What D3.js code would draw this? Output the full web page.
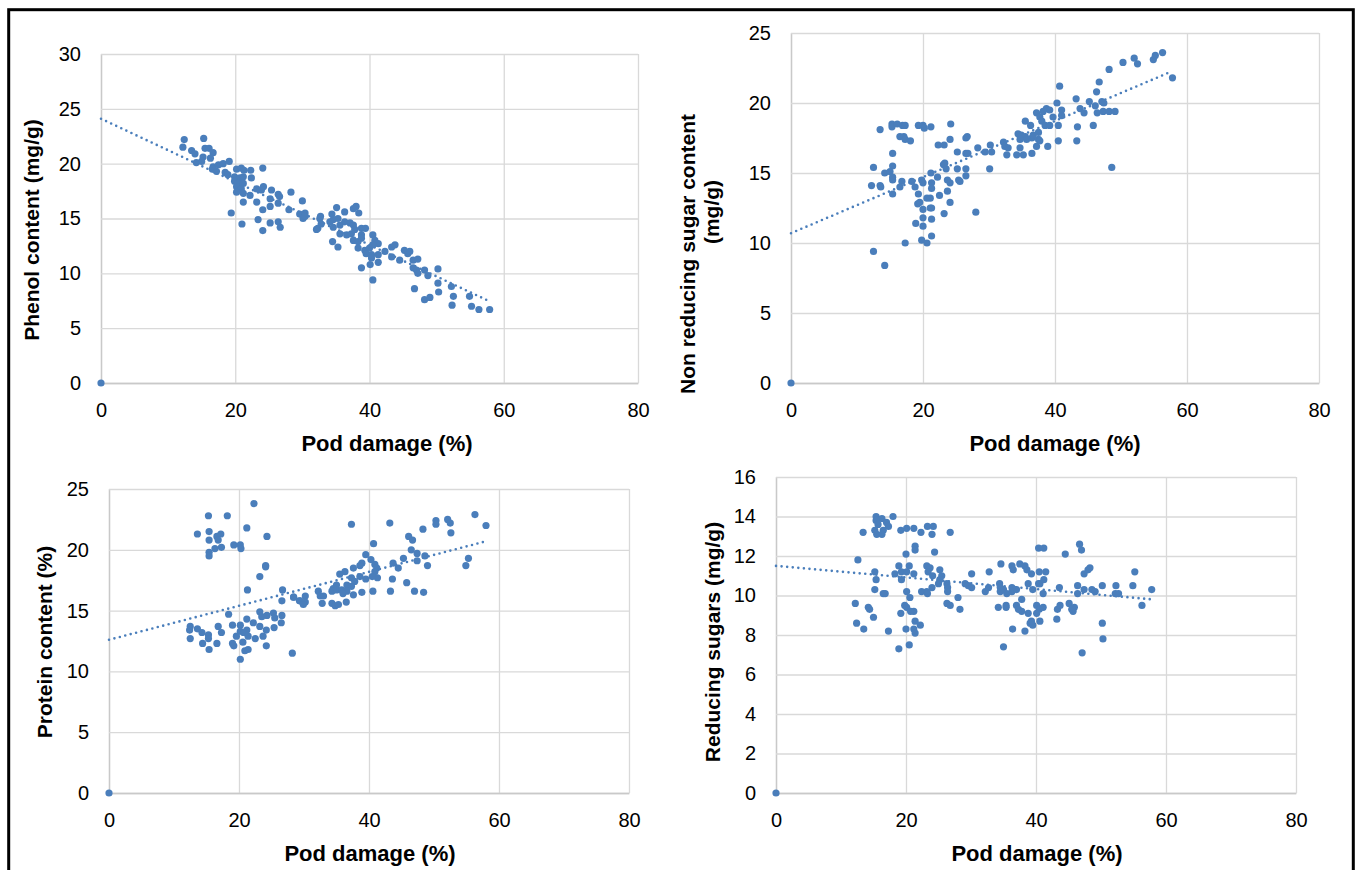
<!DOCTYPE html>
<meta charset="utf-8">
<style>
  body { margin: 0; background: #fff; }
  text { font-family: "Liberation Sans", Arial, sans-serif; }
</style>
<svg width="1356" height="870"></svg>
<script src="https://cdn.jsdelivr.net/npm/d3@7"></script>
<script>

// values: [pod damage %, value]
var phenol = [[0,0],
  [12.4,22.2],[15.3,22.3],[12.2,21.5],[13.5,21.2],[14,20.9],[15.5,21.4],[16.1,21.4],[16.7,21.0],[15.2,20.6],[16.3,20.5],[14.2,20.1],[15,20.2],[16.7,19.7],[17.5,19.9],[18.2,20.0],[19.1,20.2],[16.6,19.5],[17.2,19.3],[18.5,19.2],[18.9,19.0],[20.2,19.5],[20.9,19.6],[21.3,19.4],[22.3,19.4],[24.1,19.6],[19.9,18.8],[20.7,18.7],[21.2,18.8],[22.4,18.7],[19.9,18.4],[20.4,18.2],[21.2,18.2],[20.2,17.9],[20.9,17.7],[20.2,17.4],[21.2,17.3],[22.2,17.1],[23.2,17.7],[23.9,17.6],[24.2,17.9],[25.4,17.6],[26.4,17.2],[26.6,17.0],[28.3,17.4],[21.2,16.5],[23.2,16.5],[25.2,16.8],[26.4,16.4],[24.1,15.8],[25.2,16.1],[28.0,15.8],[30.0,16.6],[29.6,15.4],[30.4,15.5],[30.1,15.0],[19.4,15.5],[21.0,14.5],[23.4,14.9],[25.2,14.6],[26.4,14.7],[26.7,14.2],[24.1,13.9],[32.3,14.1],[32.6,15.0],
  [30.4,15.2],[32.7,15.2],[32.1,14.0],[32.8,14.5],[35.1,16.0],[36.3,15.6],[37.6,15.9],[38.0,16.1],[38.4,15.5],[34.4,15.4],[34.6,14.9],[35.3,15.0],[34.1,14.7],[34.6,14.2],[35.6,14.4],[36.3,14.7],[37.1,14.6],[37.6,14.4],[35.6,13.6],[36.6,13.5],[37.3,13.6],[37.8,14.0],[38.8,14.1],[39.4,14.1],[34.5,12.9],[35.3,12.4],[37.6,13.0],[38.3,12.9],[38.8,13.5],[38.8,13.2],[38.3,12.3],[39.3,12.1],[39.5,11.8],[40.0,12.3],[40.5,13.5],[40.8,13.0],[41.3,12.7],[40.5,12.6],[40.3,11.7],[41.3,11.7],[40.3,11.4],[41.3,11.0],[38.8,10.5],[40.1,10.8],[40.5,9.4],[42.3,12.0],[43.3,12.4],[43.8,12.6],[43.3,11.5],[44.5,11.2],[45.2,12.1],[45.7,11.8],[46.0,12.0],[46.5,11.2],[47.2,11.3],[46.5,10.5],[47.0,10.3],[47.2,10.0],[48.2,10.3],[48.7,9.8],[50.2,10.4],[50.2,9.1],[50.3,8.3],[46.7,8.6],[48.2,7.6],[49.0,7.8],[52.2,8.8],[52.5,7.9],[52.3,7.1],[54.9,7.9],[55.2,7.0],[56.3,6.7],[57.9,6.7]];

var nrSugar = [[0,0],
  [15.3,18.5],[15.3,18.3],[16.1,18.5],[16.9,18.4],[17.3,18.4],[13.5,18.1],[19.3,18.4],[20.0,18.4],[20.2,18.2],[21.2,18.3],[24.2,18.5],[16.5,17.6],[17.1,17.6],[17.3,17.4],[18.1,17.3],[22.3,17.0],[23.2,17.0],[24.1,17.4],[26.5,17.5],[26.7,17.6],[15.4,16.4],[25.2,16.5],[26.5,16.4],[26.8,16.4],[28.3,16.8],[29.4,16.5],[30.2,17.0],[30.4,16.5],[32.2,17.2],[32.4,16.9],[32.9,16.8],[32.7,16.3],[34.2,16.3],[35.2,16.3],[34.7,16.8],[12.5,15.4],[15.4,15.5],[14.2,15.0],[15.0,15.1],[15.4,14.7],[15.4,14.5],[12.2,14.1],[13.5,14.1],[13.6,14.0],[16.8,14.4],[16.5,14.0],[18.3,14.4],[18.8,14.0],[15.4,13.5],[19.8,14.5],[20.0,14.3],[21.2,15.0],[21.3,14.3],[21.3,13.9],[22.2,14.7],[19.3,13.5],[19.2,12.8],[19.5,12.9],[20.6,13.2],[21.1,13.2],[21.3,12.5],[21.1,12.5],[22.5,13.4],[23.7,13.7],[24.1,12.9],[23.1,15.6],[23.5,15.3],[23.3,15.7],[25.2,15.3],[26.5,15.3],[23.7,14.5],[24.1,14.3],[25.4,14.5],[25.6,14.4],[26.5,14.8],[30.1,15.3],[23.2,12.1],[28.0,12.2],[20.0,12.4],[20.0,11.8],[18.9,11.4],[20.0,11.2],[21.3,11.7],[17.3,10.0],[19.8,10.2],[20.6,10.0],[21.3,10.5],[12.5,9.4],[14.2,8.4],
  [36.5,16.4],[34.4,17.8],[34.9,17.7],[35.5,17.6],[34.7,17.4],[35.7,17.4],[36.5,17.5],[36.7,17.7],[37.5,17.9],[37.5,17.4],[37.2,16.9],[37.7,17.3],[35.5,18.7],[36.3,18.4],[37.2,19.3],[37.7,19.0],[38.2,19.4],[38.7,19.6],[39.2,19.5],[38.0,18.7],[38.5,18.4],[39.2,18.4],[38.9,16.9],[40.5,18.4],[40.5,17.3],[39.7,19.0],[40.3,20.0],[41.0,19.5],[41.0,19.1],[40.7,21.2],[43.2,20.3],[43.8,19.6],[44.4,19.3],[43.4,18.3],[43.3,17.3],[45.2,20.1],[46.1,19.8],[46.4,19.3],[45.8,18.4],[47.1,20.1],[47.4,20.0],[46.3,20.8],[46.7,21.5],[47.3,19.4],[48.2,19.4],[49.1,19.4],[48.2,22.4],[50.3,22.9],[52.0,23.2],[52.5,22.8],[54.9,23.1],[55.2,23.4],[56.3,23.6],[57.8,21.8],[48.6,15.4]];

var protein = [[0,0],
  [22.3,23.8],[15.3,22.8],[18.2,22.8],[21.2,21.8],[13.6,21.3],[15.4,21.5],[16.6,21.1],[17.2,21.3],[16.8,20.8],[15.4,20.8],[24.3,21.1],[17.3,20.2],[16.3,20.1],[15.4,19.8],[15.4,19.5],[19.2,20.4],[20.2,20.4],[20.3,20.1],[24.1,18.7],[24.1,18.6],[23.2,17.8],[21.3,16.7],[26.7,16.7],[28.4,16.1],[26.6,15.8],[29.3,15.8],[18.4,14.7],[23.2,14.9],[23.5,14.5],[24.3,14.6],[25.3,14.8],[25.5,14.4],[26.6,14.6],[26.5,14.0],[12.5,13.7],[12.4,13.4],[13.6,13.5],[14.3,13.2],[15.3,13.0],[15.3,12.7],[12.5,12.7],[16.8,13.7],[17.3,13.2],[19.0,13.8],[20.2,13.8],[21.2,14.3],[22.2,14.0],[20.2,13.3],[21.2,13.4],[19.6,12.9],[20.7,13.2],[23.2,13.7],[23.7,12.9],[24.2,13.4],[25.4,13.6],[22.5,12.7],[14.4,12.3],[16.6,12.3],[15.4,11.8],[19.0,12.3],[19.2,12.1],[20.6,12.4],[21.4,12.9],[24.2,12.1],[20.9,11.7],[21.4,11.8],[20.2,11.0],[28.2,11.5],
  [37.3,22.1],[43.2,22.2],[56.3,22.9],[58.0,22.0],[50.3,22.4],[50.3,22.1],[52.1,22.5],[52.5,22.2],[52.6,21.4],[48.3,21.7],[46.1,21.1],[46.7,20.8],[40.7,20.5],[46.5,20.0],[47.4,19.7],[48.6,19.5],[47.4,19.1],[49.0,18.7],[45.3,19.3],[43.7,18.9],[44.5,18.5],[55.3,19.3],[54.9,18.7],[39.5,19.6],[40.3,19.2],[38.9,18.9],[38.6,18.7],[37.6,18.5],[40.9,18.8],[41.2,18.5],[40.9,18.2],[41.3,17.7],[40.5,17.8],[39.5,17.6],[38.6,17.8],[36.3,18.2],[35.5,18.0],[37.3,17.7],[37.8,17.4],[36.6,17.1],[37.3,17.0],[35.0,17.1],[34.5,16.8],[34.3,16.6],[35.0,16.7],[35.8,16.7],[36.6,16.6],[37.6,16.3],[36.0,16.4],[38.9,16.5],[40.6,16.6],[43.6,17.6],[45.8,17.3],[43.3,16.6],[47.0,16.6],[48.4,16.5],[32.2,16.6],[32.5,16.2],[33.0,16.2],[30.2,16.2],[28.4,16.1],[29.4,15.8],[30.2,15.7],[29.9,15.5],[32.8,15.6],[34.3,15.6],[34.8,15.4],[35.3,15.5],[36.5,15.7]];

var redSugar = [[0,0],
  [15.4,14.0],[16.3,13.9],[18.0,14.0],[15.4,13.8],[15.7,13.6],[17.0,13.7],[17.3,13.5],[16.5,13.3],[15.5,13.1],[16.3,13.1],[15.2,13.3],[13.4,13.2],[19.2,13.3],[20.1,13.4],[21.2,13.4],[22.3,13.2],[23.3,13.5],[24.2,13.5],[24.0,13.1],[26.8,13.2],[21.4,12.5],[21.4,12.3],[20.0,12.1],[24.4,12.2],[12.6,11.8],[18.9,11.5],[20.5,11.5],[18.3,11.1],[19.3,11.2],[20.1,11.2],[21.2,11.1],[19.3,10.8],[15.2,11.2],[15.4,10.8],[15.2,10.3],[16.5,10.1],[16.8,10.1],[23.2,11.5],[23.7,11.4],[23.4,11.2],[24.1,11.0],[25.2,11.3],[25.5,11.0],[25.2,10.8],[25.0,10.6],[24.0,10.4],[22.4,10.2],[23.2,10.2],[23.3,10.1],[20.1,10.2],[20.6,9.9],[19.8,9.5],[20.1,9.4],[21.2,9.2],[26.3,10.6],[26.4,10.4],[26.4,10.2],[28.0,9.9],[28.3,9.3],[26.3,9.6],[26.8,9.5],[12.2,9.6],[14.2,9.4],[14.4,9.3],[15.0,8.9],[19.2,9.1],[20.7,9.2],[21.4,8.7],[22.2,8.5],[12.4,8.6],[13.5,8.3],[17.3,8.2],[20.0,8.3],[21.2,8.3],[21.4,8.1],[18.9,7.3],[20.5,7.5],[29.1,10.6],[29.6,10.5],[30.1,10.4],[30.1,11.1],[32.8,11.2],[34.6,11.6],[32.2,10.2],[32.7,10.4],[34.4,10.6],[34.5,10.4],[34.5,10.2],[35.0,10.3],[35.5,10.1],[36.3,10.2],[37.0,10.3],[36.3,10.4],[36.3,11.5],[36.5,11.3],[37.5,11.6],[38.3,11.5],[38.6,11.3],[39.3,11.1],[40.5,11.2],[38.8,10.6],[39.5,10.3],[40.4,10.6],[34.2,9.4],[35.4,9.5],[35.4,9.4],[37.0,9.5],[37.3,9.3],[37.8,9.8],[37.8,9.2],[38.8,9.1],[40.1,9.5],[40.5,9.3],[36.4,8.3],[38.3,8.2],[39.1,8.6],[39.5,8.5],[35.0,7.4],[40.4,12.4],
  [41.2,12.4],[44.5,12.1],[46.7,12.6],[47.0,12.3],[41.5,11.2],[40.6,10.6],[41.2,10.8],[41.1,10.1],[47.4,11.1],[48.0,11.3],[48.3,11.4],[43.6,10.4],[46.4,10.5],[47.4,10.3],[48.6,10.3],[49.1,10.2],[46.4,10.1],[50.2,10.5],[52.3,10.5],[52.2,10.1],[52.7,10.1],[54.9,10.5],[55.2,11.2],[57.8,10.3],[41.1,9.4],[40.1,9.1],[39.3,8.7],[40.6,8.7],[43.3,9.3],[43.7,9.5],[43.2,8.8],[45.1,9.6],[45.9,9.4],[45.7,9.2],[45.5,9.3],[56.3,9.5],[50.2,8.6],[50.3,7.8],[47.1,7.1]];

// linear trendlines as drawn (start and end points)
var phenolTrend = [[0,24.1],[57.7,7.5]];
var nrSugarTrend = [[0,10.7],[57.4,22.2]];
var proteinTrend = [[0,12.6],[58,20.7]];
var redSugarTrend = [[0,11.5],[58,9.8]];

var xTicks = [0, 20, 40, 60, 80];
var yTicks30 = [0, 5, 10, 15, 20, 25, 30];
var yTicks25 = [0, 5, 10, 15, 20, 25];
var yTicks16 = [0, 2, 4, 6, 8, 10, 12, 14, 16];

var blue = "#4a7ebb";

var svg = d3.select("svg");

svg.append("rect")
    .attr("width", 1356).attr("height", 870).attr("fill", "#fff");

svg.append("rect")
    .attr("x", 8.7).attr("y", 9.7)
    .attr("width", 1344.6).attr("height", 900)
    .attr("fill", "none").attr("stroke", "#000").attr("stroke-width", 3);

var panels = [
  { data: phenol, trend: phenolTrend, yTicks: yTicks30, x: [101, 638], y: [383, 54],
    xTitle: [387, 451], yTitle: [{ x: 32, y: 230, t: "Phenol content (mg/g)" }] },
  { data: nrSugar, trend: nrSugarTrend, yTicks: yTicks25, x: [791, 1319], y: [383, 33],
    xTitle: [1055, 451], yTitle: [{ x: 688, y: 254, t: "Non reducing sugar content" }, { x: 712, y: 212, t: "(mg/g)" }] },
  { data: protein, trend: proteinTrend, yTicks: yTicks25, x: [109, 629], y: [793, 489],
    xTitle: [370, 861], yTitle: [{ x: 45, y: 642, t: "Protein content (%)" }] },
  { data: redSugar, trend: redSugarTrend, yTicks: yTicks16, x: [776, 1296], y: [793, 477],
    xTitle: [1037, 861], yTitle: [{ x: 713, y: 642, t: "Reducing sugars (mg/g)" }] }
];

panels.forEach(function(p) {
  var x = d3.scaleLinear().domain([0, 80]).range(p.x),
      y = d3.scaleLinear().domain([0, d3.max(p.yTicks)]).range(p.y),
      w = p.x[1] - p.x[0],
      h = p.y[0] - p.y[1],
      g = svg.append("g");

  var gx = g.append("g")
      .attr("transform", "translate(0," + p.y[0] + ")")
      .call(d3.axisBottom(x).tickValues(xTicks).tickSizeInner(-h).tickSizeOuter(0).tickPadding(20));

  var gy = g.append("g")
      .attr("transform", "translate(" + p.x[0] + ",0)")
      .call(d3.axisLeft(y).tickValues(p.yTicks).tickSizeInner(-w).tickSizeOuter(0).tickPadding(20));

  [gx, gy].forEach(function(a) {
    a.select(".domain").attr("stroke", "#c9c9c9").attr("stroke-width", 1.3);
    a.selectAll(".tick line").attr("stroke", "#d9d9d9").attr("stroke-width", 1.3);
    a.selectAll(".tick text")
        .attr("fill", "#000")
        .style("font-size", "20px")
        .style("font-family", "'Liberation Sans', Arial, sans-serif");
  });
  gy.select(".tick line").attr("stroke", "#c9c9c9");
  gx.select(".tick line").attr("stroke", "#c9c9c9");

  g.append("path")
      .datum(p.trend)
      .attr("fill", "none")
      .attr("stroke", blue)
      .attr("stroke-width", 2.6)
      .attr("stroke-linecap", "round")
      .attr("stroke-dasharray", "0,5.6")
      .attr("d", d3.line().x(function(d) { return x(d[0]); }).y(function(d) { return y(d[1]); }));

  g.append("g")
    .selectAll("circle")
    .data(p.data)
    .enter().append("circle")
      .attr("cx", function(d) { return x(d[0]); })
      .attr("cy", function(d) { return y(d[1]); })
      .attr("r", 3.6)
      .attr("fill", blue);

  g.append("text")
      .attr("x", p.xTitle[0])
      .attr("y", p.xTitle[1])
      .attr("text-anchor", "middle")
      .attr("font-weight", "bold")
      .attr("font-size", 22)
      .text("Pod damage (%)");

  p.yTitle.forEach(function(t) {
    g.append("text")
        .attr("transform", "translate(" + t.x + "," + t.y + ")rotate(-90)")
        .attr("text-anchor", "middle")
        .attr("dy", "0.35em")
        .attr("font-weight", "bold")
        .attr("font-size", 21)
        .text(t.t);
  });
});

</script>
